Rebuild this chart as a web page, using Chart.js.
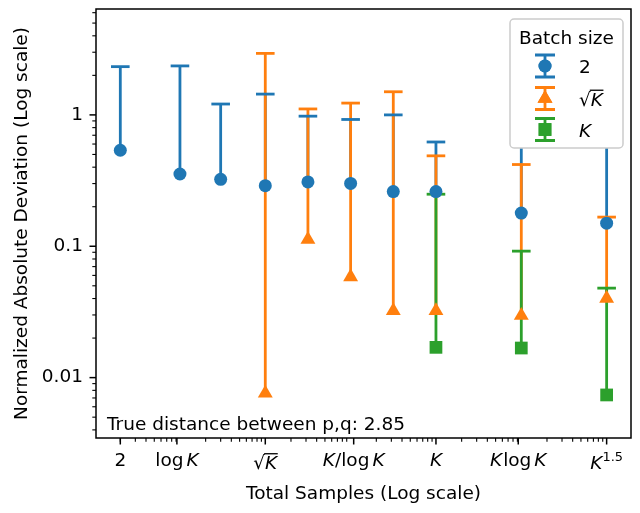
<!DOCTYPE html>
<html>
<head>
<meta charset="utf-8">
<script src="https://cdn.jsdelivr.net/npm/chart.js@4.4.0/dist/chart.umd.min.js"></script>
<style>
  html, body { margin: 0; padding: 0; background: #fff; }
  #wrap { width: 640px; height: 513px; position: relative; }
</style>
</head>
<body>
<div id="wrap"><canvas id="chart"></canvas></div>
<script>
// Eje x: K = 10^4, log natural
const xTickValues = [2, 9.21, 100, 1086, 10000, 92103, 1000000];
const xTickLabels = [
    [['2', 'n']],
    [['log', 'n'], [3, 'gap'], ['K', 'i']],
    [['\u221A', 'n'], ['K', 'io']],
    [['K', 'i'], ['/log', 'n'], [3, 'gap'], ['K', 'i']],
    [['K', 'i']],
    [['K', 'i'], [1, 'gap'], ['log', 'n'], [3, 'gap'], ['K', 'i']],
    [['K', 'i'], ['1.5', 's']],
];
const yTickValues = [0.01, 0.1, 1];
const yTickLabels = ['0.01', '0.1', '1'];

// Tamaño de lote 2
const batch2X = [2, 10, 30, 100, 316, 1000, 3162, 10000, 100000, 1000000];
const batch2Mean = [0.538, 0.355, 0.323, 0.289, 0.309, 0.301, 0.261, 0.261, 0.179, 0.150];
const batch2Upper = [2.33, 2.36, 1.21, 1.44, 0.978, 0.923, 1.0, 0.622, 1.0, 1.2];

// Tamaño de lote sqrt(K)
const batchSqrtX = [100, 316, 1000, 3162, 10000, 100000, 1000000];
const batchSqrtMean = [0.0076, 0.1125, 0.0584, 0.0323, 0.0323, 0.0297, 0.0401];
const batchSqrtUpper = [2.94, 1.11, 1.23, 1.50, 0.488, 0.419, 0.1667];

// Tamaño de lote K
const batchKX = [10000, 100000, 1000000];
const batchKMean = [0.0170, 0.0168, 0.00738];
const batchKUpper = [0.249, 0.0918, 0.048];

const FAM = '"DejaVu Sans"';
const FS = 18.5;
const CAP = 9.3;

const series = [
    { label: '2', xs: batch2X, ys: batch2Mean, up: batch2Upper, color: '#1f77b4', style: 'circle', radius: 6.5 },
    { label: 'sqrtK', xs: batchSqrtX, ys: batchSqrtMean, up: batchSqrtUpper, color: '#ff7f0e', style: 'triangle', radius: 8.6 },
    { label: 'K', xs: batchKX, ys: batchKMean, up: batchKUpper, color: '#2ca02c', style: 'rect', radius: 9 },
];
const legendLabels = [
    [['2', 'n']],
    [['\u221A', 'n'], ['K', 'io']],
    [['K', 'i']],
];

function fontOf(kind) {
    if (kind === 'i' || kind === 'io') return `italic ${FS}px ${FAM}`;
    if (kind === 's') return `${FS * 0.7}px ${FAM}`;
    return `${FS}px ${FAM}`;
}

// dibuja texto con partes en cursiva, superindice y raiz
function drawMath(ctx, parts, x, base, align) {
    const widths = parts.map(p => {
        if (p[1] === 'gap') return p[0];
        ctx.font = fontOf(p[1]);
        return ctx.measureText(p[0]).width;
    });
    const total = widths.reduce((a, b) => a + b, 0);
    let cx = align === 'center' ? x - total / 2 : x;
    ctx.textAlign = 'left';
    ctx.textBaseline = 'alphabetic';
    parts.forEach((p, i) => {
        if (p[1] !== 'gap') {
            ctx.font = fontOf(p[1]);
            const yy = p[1] === 's' ? base - FS * 0.45 : base;
            ctx.fillText(p[0], cx, yy);
            if (p[1] === 'io') {
                ctx.fillRect(cx - 1, base - FS * 0.86, widths[i] + 1.5, 1.3);
            }
        }
        cx += widths[i];
    });
}

const errorBars = {
    id: 'errorBars',
    beforeDatasetsDraw(chart) {
        const { ctx, chartArea, scales: { x, y } } = chart;
        ctx.save();
        ctx.beginPath();
        ctx.rect(chartArea.left, chartArea.top, chartArea.right - chartArea.left, chartArea.bottom - chartArea.top);
        ctx.clip();
        ctx.lineCap = 'butt';
        ctx.lineWidth = 2.8;
        series.forEach(s => {
            ctx.strokeStyle = s.color;
            s.xs.forEach((xv, i) => {
                const px = x.getPixelForValue(xv);
                ctx.beginPath();
                ctx.moveTo(px, y.getPixelForValue(s.ys[i]));
                ctx.lineTo(px, y.getPixelForValue(s.up[i]));
                ctx.stroke();
            });
        });
        // solo el tope superior
        series.forEach(s => {
            ctx.strokeStyle = s.color;
            s.xs.forEach((xv, i) => {
                const px = x.getPixelForValue(xv);
                const py = y.getPixelForValue(s.up[i]);
                ctx.beginPath();
                ctx.moveTo(px - CAP, py);
                ctx.lineTo(px + CAP, py);
                ctx.stroke();
            });
        });
        ctx.restore();
    }
};

const axesDeco = {
    id: 'axesDeco',
    afterDatasetsDraw(chart) {
        const { ctx, chartArea: a, scales: { x, y } } = chart;
        ctx.save();
        // marco
        ctx.strokeStyle = '#000';
        ctx.lineWidth = 1.5;
        ctx.strokeRect(a.left, a.top, a.right - a.left, a.bottom - a.top);

        // ticks menores (2..9 x 10^n) y mayores
        const tick = (px, py, len, w, horiz) => {
            ctx.lineWidth = w;
            ctx.beginPath();
            if (horiz) { ctx.moveTo(px, py); ctx.lineTo(px, py + len); }
            else { ctx.moveTo(px, py); ctx.lineTo(px - len, py); }
            ctx.stroke();
        };
        for (let e = -4; e <= 7; e++) {
            for (let m = 2; m <= 9; m++) {
                const v = m * Math.pow(10, e);
                if (v > x.min && v < x.max) tick(x.getPixelForValue(v), a.bottom, 3.7, 1.1, true);
                if (v > y.min && v < y.max) tick(a.left, y.getPixelForValue(v), 3.7, 1.1, false);
            }
        }
        xTickValues.forEach(v => tick(x.getPixelForValue(v), a.bottom, 6.5, 1.5, true));
        yTickValues.forEach(v => tick(a.left, y.getPixelForValue(v), 6.5, 1.5, false));

        // etiquetas del eje x
        ctx.fillStyle = '#000';
        xTickValues.forEach((v, i) => {
            const lab = xTickLabels[i];
            const hasTop = lab.some(p => p[1] === 'io' || p[1] === 's');
            drawMath(ctx, lab, x.getPixelForValue(v), hasTop ? 469 : 466, 'center');
        });

        // texto de distancia
        ctx.font = `${FS}px ${FAM}`;
        ctx.textAlign = 'left';
        ctx.textBaseline = 'alphabetic';
        ctx.fillText('True distance between p,q: 2.85', a.left + 11, a.bottom - 8);

        // leyenda
        const lw = 113, lh = 129;
        const lx = a.right - 8 - lw, ly = a.top + 10;
        ctx.beginPath();
        ctx.roundRect(lx, ly, lw, lh, 4);
        ctx.fillStyle = '#ffffff';
        ctx.fill();
        ctx.strokeStyle = '#cccccc';
        ctx.lineWidth = 1.5;
        ctx.stroke();
        ctx.fillStyle = '#000';
        ctx.font = `${FS}px ${FAM}`;
        ctx.textAlign = 'center';
        ctx.fillText('Batch size', lx + lw / 2, ly + 25);
        const rows = [47, 79.5, 110.5];
        series.forEach((s, i) => {
            const cy = ly + rows[i];
            const gx = lx + 35;
            ctx.strokeStyle = s.color;
            ctx.lineWidth = 2.8;
            ctx.beginPath();
            ctx.moveTo(gx, cy - 11); ctx.lineTo(gx, cy + 11);
            ctx.moveTo(gx - 10, cy - 11); ctx.lineTo(gx + 10, cy - 11);
            ctx.moveTo(gx - 10, cy + 11); ctx.lineTo(gx + 10, cy + 11);
            ctx.stroke();
            ctx.fillStyle = s.color;
            Chart.helpers.drawPoint(ctx, { pointStyle: s.style, radius: s.radius, rotation: 0, borderWidth: 0 }, gx, cy);
            ctx.fill();
            ctx.fillStyle = '#000';
            drawMath(ctx, legendLabels[i], lx + 69, cy + 7, 'left');
        });
        ctx.restore();
    }
};

const ctx = document.getElementById('chart').getContext('2d');
new Chart(ctx, {
    type: 'scatter',
    data: {
        datasets: series.map(s => ({
            label: s.label,
            data: s.xs.map((xv, i) => ({ x: xv, y: s.ys[i] })),
            pointStyle: s.style,
            pointRadius: s.radius,
            pointHoverRadius: s.radius,
            pointBackgroundColor: s.color,
            pointBorderWidth: 0,
            showLine: false,
        })),
    },
    options: {
        responsive: true,
        maintainAspectRatio: false,
        animation: false,
        layout: { padding: { left: 0, top: 6, right: 6, bottom: 0 } },
        plugins: {
            legend: { display: false },
            tooltip: { enabled: false },
        },
        scales: {
            x: {
                type: 'logarithmic',
                min: 1.038,
                max: 1.93e6,
                grid: { display: false, drawTicks: false },
                border: { display: false },
                ticks: { display: false },
                title: {
                    display: true,
                    text: 'Total Samples (Log scale)',
                    color: '#000',
                    font: { family: 'DejaVu Sans', size: FS },
                    padding: { top: 0, bottom: 8 },
                },
                afterFit: (s) => { s.height = 75; s.paddingLeft = 0; s.paddingRight = 0; },
            },
            y: {
                type: 'logarithmic',
                min: 0.00347,
                max: 6.4,
                grid: { display: false, drawTicks: false },
                border: { display: false },
                afterBuildTicks: (s) => { s.ticks = yTickValues.map(v => ({ value: v })); },
                ticks: {
                    color: '#000',
                    padding: 13,
                    font: { family: 'DejaVu Sans', size: FS },
                    callback: (v, i) => yTickLabels[i],
                },
                title: {
                    display: true,
                    text: 'Normalized Absolute Deviation (Log scale)',
                    color: '#000',
                    font: { family: 'DejaVu Sans', size: FS },
                    padding: { top: 11, bottom: 0 },
                },
                afterFit: (s) => { s.width = 96; s.paddingTop = 0; s.paddingBottom = 0; },
            },
        },
    },
    plugins: [errorBars, axesDeco],
});
</script>
</body>
</html>
